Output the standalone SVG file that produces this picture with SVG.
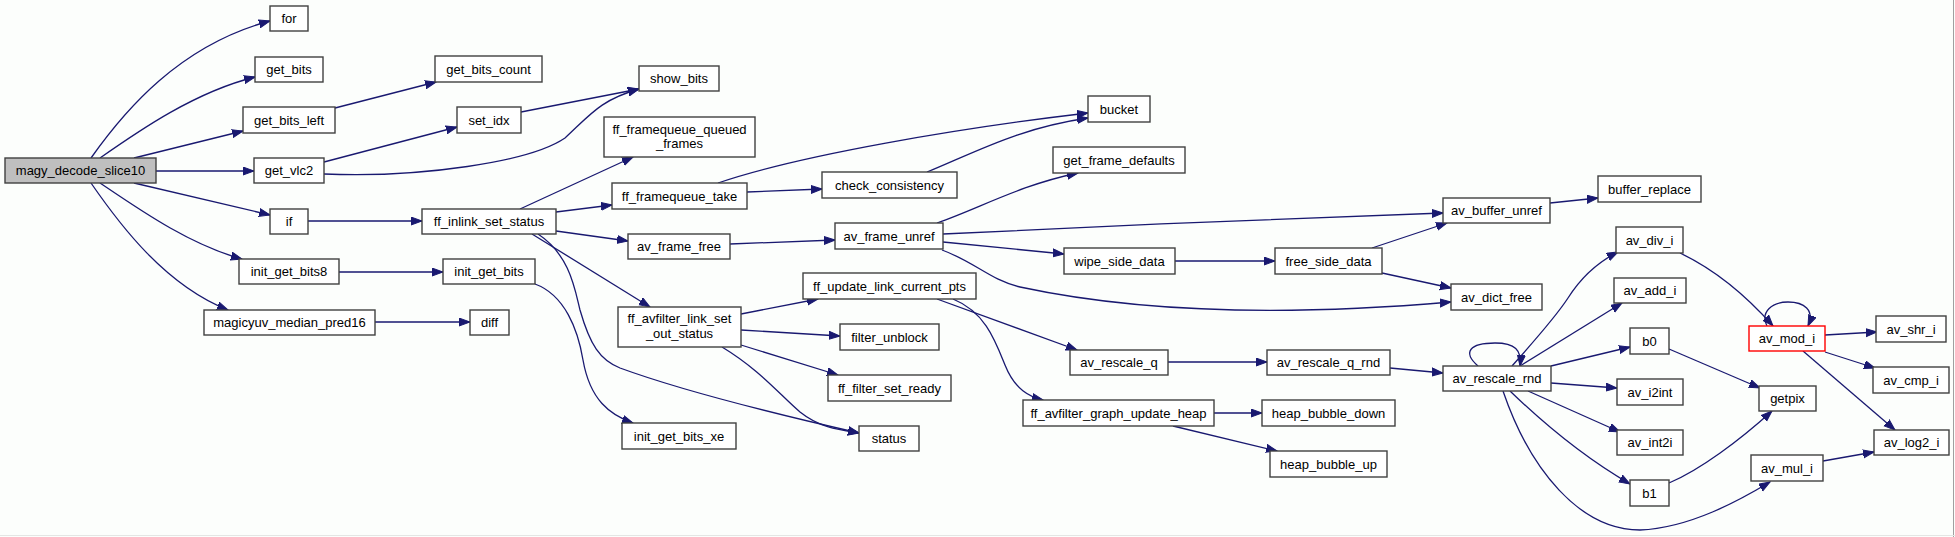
<svg xmlns="http://www.w3.org/2000/svg" width="1955" height="537" viewBox="0 0 1955 537">
<style>
.n rect{fill:#ffffff;stroke:#404040;stroke-width:1.4}
.n text{font-family:"Liberation Sans",Arial,sans-serif;font-size:13px;fill:#000;text-anchor:middle}
#edges path{fill:none;stroke:#191970;stroke-width:1.3;marker-end:url(#ah)}
</style>
<defs>
<marker id="ah" markerWidth="12" markerHeight="10" refX="11" refY="4.5" orient="auto" markerUnits="userSpaceOnUse">
<path d="M0,0.5 L11,4.5 L0,8.5 z" fill="#191970" stroke="#191970" stroke-width="1"/>
</marker>
</defs>
<rect x="0" y="0" width="1955" height="537" fill="#fcfefc"/>
<line x1="1953.5" y1="0" x2="1953.5" y2="537" stroke="#a0a0a0" stroke-width="1"/>
<line x1="0" y1="535.5" x2="1955" y2="535.5" stroke="#e4e6e4" stroke-width="1"/>
<g id="edges">
<path d="M91,158 C125,110 180,45 270,21"/>
<path d="M100,158 C140,130 195,92 255,77"/>
<path d="M134,158 L243,131"/>
<path d="M156,171 L254,171"/>
<path d="M134,183 L270,215"/>
<path d="M100,183 C140,210 190,245 242,259"/>
<path d="M91,183 C120,225 165,285 228,310"/>
<path d="M335,108 L436,82"/>
<path d="M324,162 L457,127"/>
<path d="M521,112 L639,89"/>
<path d="M324,174 C420,178 530,162 565,138 C590,115 600,100 639,89"/>
<path d="M308,221 L422,221"/>
<path d="M520,209 L633,157"/>
<path d="M556,212 L612,205"/>
<path d="M556,231 L628,241"/>
<path d="M532,234 L650,307"/>
<path d="M538,234 C570,255 575,290 580,310 C590,345 600,360 620,368 C680,390 780,415 859,433"/>
<path d="M722,347 C760,370 780,395 800,412 C820,428 840,430 859,433"/>
<path d="M535,284 C565,295 578,330 583,360 C590,400 610,415 633,423"/>
<path d="M375,322 L470,322"/>
<path d="M339,272 L443,272"/>
<path d="M747,192 L822,189"/>
<path d="M718,183 C800,155 960,128 1088,113"/>
<path d="M927,172 C980,150 1020,128 1088,118"/>
<path d="M730,244 L835,240"/>
<path d="M937,223 C980,208 1020,185 1078,173"/>
<path d="M943,234 C1100,226 1300,218 1443,213"/>
<path d="M943,242 L1064,254"/>
<path d="M942,250 C975,262 990,280 1020,287 C1150,315 1300,315 1451,302"/>
<path d="M1175,261 L1275,261"/>
<path d="M1372,248 L1447,223"/>
<path d="M1382,273 L1451,288"/>
<path d="M1550,203 L1598,198"/>
<path d="M741,314 L818,299"/>
<path d="M741,330 L840,336"/>
<path d="M741,345 L838,375"/>
<path d="M937,299 L1077,350"/>
<path d="M953,299 C985,312 995,340 1005,365 C1015,390 1030,397 1043,400"/>
<path d="M1168,362 L1267,362"/>
<path d="M1390,368 L1443,373"/>
<path d="M1214,413 L1262,413"/>
<path d="M1173,426 L1277,451"/>
<path d="M1478,366 C1462,352 1470,343 1495,343 C1515,343 1522,350 1520,366"/>
<path d="M1512,366 C1535,340 1555,318 1568,298 C1582,276 1598,262 1618,252"/>
<path d="M1520,366 L1622,303"/>
<path d="M1551,366 L1630,347"/>
<path d="M1551,383 L1617,388"/>
<path d="M1528,391 L1620,432"/>
<path d="M1510,391 C1540,420 1580,455 1630,484"/>
<path d="M1503,391 C1530,470 1580,530 1640,530 C1690,528 1740,500 1770,482"/>
<path d="M1669,349 L1760,388"/>
<path d="M1669,483 C1700,470 1740,440 1772,411"/>
<path d="M1680,253 C1720,272 1750,300 1773,326"/>
<path d="M1767,326 C1760,312 1772,302 1788,302 C1804,302 1815,310 1808,326"/>
<path d="M1825,335 L1877,332"/>
<path d="M1825,352 L1875,368"/>
<path d="M1803,351 L1895,430"/>
<path d="M1823,461 L1874,452"/>
</g>
<g id="magy_decode_slice10" class="n"><rect x="5" y="158" width="151" height="25" style="fill:#bfbfbf"/><text x="80.5" y="175">magy_decode_slice10</text></g>
<g id="for" class="n"><rect x="270" y="6" width="38" height="25"/><text x="289" y="23">for</text></g>
<g id="get_bits" class="n"><rect x="255" y="57" width="68" height="25"/><text x="289" y="74">get_bits</text></g>
<g id="get_bits_left" class="n"><rect x="243" y="107" width="92" height="26"/><text x="289" y="124.5">get_bits_left</text></g>
<g id="get_vlc2" class="n"><rect x="254" y="158" width="70" height="25"/><text x="289" y="175">get_vlc2</text></g>
<g id="if" class="n"><rect x="270" y="209" width="38" height="25"/><text x="289" y="226">if</text></g>
<g id="init_get_bits8" class="n"><rect x="239" y="259" width="100" height="25"/><text x="289" y="276">init_get_bits8</text></g>
<g id="magicyuv_median_pred16" class="n"><rect x="204" y="310" width="171" height="25"/><text x="289.5" y="327">magicyuv_median_pred16</text></g>
<g id="get_bits_count" class="n"><rect x="435" y="56" width="107" height="26"/><text x="488.5" y="73.5">get_bits_count</text></g>
<g id="set_idx" class="n"><rect x="457" y="107" width="64" height="26"/><text x="489" y="124.5">set_idx</text></g>
<g id="ff_inlink_set_status" class="n"><rect x="422" y="209" width="134" height="25"/><text x="489" y="226">ff_inlink_set_status</text></g>
<g id="init_get_bits" class="n"><rect x="443" y="259" width="92" height="25"/><text x="489" y="276">init_get_bits</text></g>
<g id="diff" class="n"><rect x="470" y="310" width="39" height="25"/><text x="489.5" y="327">diff</text></g>
<g id="show_bits" class="n"><rect x="639" y="66" width="80" height="25"/><text x="679" y="83">show_bits</text></g>
<g id="ff_framequeue_queued_frames" class="n"><rect x="604" y="117" width="151" height="40"/><text x="679.5" y="133.5">ff_framequeue_queued</text><text x="679.5" y="148">_frames</text></g>
<g id="ff_framequeue_take" class="n"><rect x="612" y="183" width="135" height="26"/><text x="679.5" y="200.5">ff_framequeue_take</text></g>
<g id="av_frame_free" class="n"><rect x="628" y="234" width="102" height="25"/><text x="679" y="251">av_frame_free</text></g>
<g id="ff_avfilter_link_set_out_status" class="n"><rect x="618" y="307" width="123" height="40"/><text x="679.5" y="323">ff_avfilter_link_set</text><text x="679.5" y="337.5">_out_status</text></g>
<g id="init_get_bits_xe" class="n"><rect x="622" y="423" width="114" height="26"/><text x="679" y="440.5">init_get_bits_xe</text></g>
<g id="check_consistency" class="n"><rect x="822" y="172" width="135" height="26"/><text x="889.5" y="189.5">check_consistency</text></g>
<g id="av_frame_unref" class="n"><rect x="835" y="223" width="108" height="26"/><text x="889" y="240.5">av_frame_unref</text></g>
<g id="ff_update_link_current_pts" class="n"><rect x="803" y="273" width="173" height="26"/><text x="889.5" y="290.5">ff_update_link_current_pts</text></g>
<g id="filter_unblock" class="n"><rect x="840" y="324" width="99" height="26"/><text x="889.5" y="341.5">filter_unblock</text></g>
<g id="ff_filter_set_ready" class="n"><rect x="828" y="375" width="123" height="26"/><text x="889.5" y="392.5">ff_filter_set_ready</text></g>
<g id="status" class="n"><rect x="859" y="426" width="60" height="25"/><text x="889" y="443">status</text></g>
<g id="bucket" class="n"><rect x="1088" y="96" width="62" height="26"/><text x="1119" y="113.5">bucket</text></g>
<g id="get_frame_defaults" class="n"><rect x="1053" y="147" width="132" height="26"/><text x="1119" y="164.5">get_frame_defaults</text></g>
<g id="wipe_side_data" class="n"><rect x="1064" y="248" width="111" height="26"/><text x="1119.5" y="265.5">wipe_side_data</text></g>
<g id="av_rescale_q" class="n"><rect x="1070" y="350" width="98" height="25"/><text x="1119" y="367">av_rescale_q</text></g>
<g id="ff_avfilter_graph_update_heap" class="n"><rect x="1023" y="400" width="191" height="26"/><text x="1118.5" y="417.5">ff_avfilter_graph_update_heap</text></g>
<g id="free_side_data" class="n"><rect x="1275" y="248" width="107" height="26"/><text x="1328.5" y="265.5">free_side_data</text></g>
<g id="av_rescale_q_rnd" class="n"><rect x="1267" y="350" width="123" height="25"/><text x="1328.5" y="367">av_rescale_q_rnd</text></g>
<g id="heap_bubble_down" class="n"><rect x="1262" y="400" width="133" height="26"/><text x="1328.5" y="417.5">heap_bubble_down</text></g>
<g id="heap_bubble_up" class="n"><rect x="1270" y="451" width="117" height="26"/><text x="1328.5" y="468.5">heap_bubble_up</text></g>
<g id="av_buffer_unref" class="n"><rect x="1443" y="198" width="107" height="25"/><text x="1496.5" y="215">av_buffer_unref</text></g>
<g id="av_dict_free" class="n"><rect x="1451" y="284" width="91" height="26"/><text x="1496.5" y="301.5">av_dict_free</text></g>
<g id="av_rescale_rnd" class="n"><rect x="1443" y="366" width="108" height="25"/><text x="1497" y="383">av_rescale_rnd</text></g>
<g id="buffer_replace" class="n"><rect x="1598" y="176" width="103" height="26"/><text x="1649.5" y="193.5">buffer_replace</text></g>
<g id="av_div_i" class="n"><rect x="1616" y="227" width="67" height="26"/><text x="1649.5" y="244.5">av_div_i</text></g>
<g id="av_add_i" class="n"><rect x="1614" y="278" width="72" height="25"/><text x="1650" y="295">av_add_i</text></g>
<g id="b0" class="n"><rect x="1630" y="328" width="39" height="26"/><text x="1649.5" y="345.5">b0</text></g>
<g id="av_i2int" class="n"><rect x="1617" y="379" width="66" height="26"/><text x="1650" y="396.5">av_i2int</text></g>
<g id="av_int2i" class="n"><rect x="1617" y="430" width="66" height="25"/><text x="1650" y="447">av_int2i</text></g>
<g id="b1" class="n"><rect x="1630" y="480" width="39" height="26"/><text x="1649.5" y="497.5">b1</text></g>
<g id="av_mod_i" class="n"><rect x="1749" y="326" width="76" height="25" style="stroke:#ff0000"/><text x="1787" y="343">av_mod_i</text></g>
<g id="getpix" class="n"><rect x="1759" y="386" width="57" height="25"/><text x="1787.5" y="403">getpix</text></g>
<g id="av_mul_i" class="n"><rect x="1751" y="455" width="72" height="26"/><text x="1787" y="472.5">av_mul_i</text></g>
<g id="av_shr_i" class="n"><rect x="1876" y="316" width="70" height="26"/><text x="1911" y="333.5">av_shr_i</text></g>
<g id="av_cmp_i" class="n"><rect x="1873" y="367" width="76" height="26"/><text x="1911" y="384.5">av_cmp_i</text></g>
<g id="av_log2_i" class="n"><rect x="1874" y="430" width="75" height="25"/><text x="1911.5" y="447">av_log2_i</text></g>
</svg>
